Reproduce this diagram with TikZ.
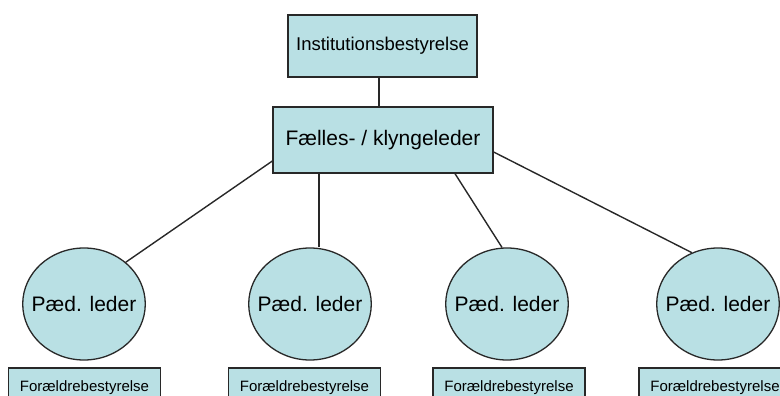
\documentclass[tikz,border=0pt]{standalone}
\usepackage{fontspec}
\setmainfont{Liberation Sans}
\usetikzlibrary{shapes.geometric,calc}
\definecolor{boxfill}{RGB}{185,224,228}
\definecolor{boxline}{RGB}{40,40,40}
\tikzset{
  orgbox/.style={rectangle,draw=boxline,fill=boxfill,line width=1.3pt,inner sep=0pt},
  leder/.style={ellipse,draw=boxline,fill=boxfill,line width=1.3pt,inner xsep=-9pt,inner ysep=0pt,
    minimum width=118pt,minimum height=112pt,font=\fontsize{21}{24}\selectfont},
  board/.style={orgbox,minimum width=152pt,minimum height=40pt,
    font=\fontsize{15}{17}\selectfont},
  link/.style={draw=boxline,line width=1.4pt}
}
\begin{document}
\begin{tikzpicture}[x=1pt,y=-1pt]
		\useasboundingbox (0,0) rectangle (780,396);

		\begin{scope}[every node/.style={orgbox}]
			\node[minimum width=189pt,minimum height=62pt,font=\fontsize{18.5}{21}\selectfont] (top) at (382.5,46) {Institutionsbestyrelse};
			\node[minimum width=220pt,minimum height=66pt,font=\fontsize{21}{24}\selectfont] (mid) at (383,140) {Fælles- / klyngeleder};
		\end{scope}

		\node[leder] (p1) at (84,304) {Pæd. leder};
		\node[leder] (p2) at (310,304) {Pæd. leder};
		\node[leder] (p3) at (507,304) {Pæd. leder};
		\node[leder] (p4) at (718,304) {Pæd. leder};

		\node[board] (b1) at (84.5,388) {Forældrebestyrelse};
		\node[board] (b2) at (304.5,388) {Forældrebestyrelse};
		\node[board] (b3) at (509,388) {Forældrebestyrelse};
		\node[board] (b4) at (715,388) {Forældrebestyrelse};

		\begin{scope}[every path/.style={link}]
			\path ([xshift=-3.5pt]top.south) edge ([xshift=-4pt]mid.north);
			\path ([yshift=-21pt]mid.west) edge (p1.45);
			\path ([xshift=-64pt]mid.south) edge ([xshift=-64pt]mid.south |- p2.north);
			\path ([xshift=72pt]mid.south) edge (p3.95);
			\path ([yshift=-12pt]mid.east) edge (p4.117);
		\end{scope}
	\end{tikzpicture}
\end{document}
